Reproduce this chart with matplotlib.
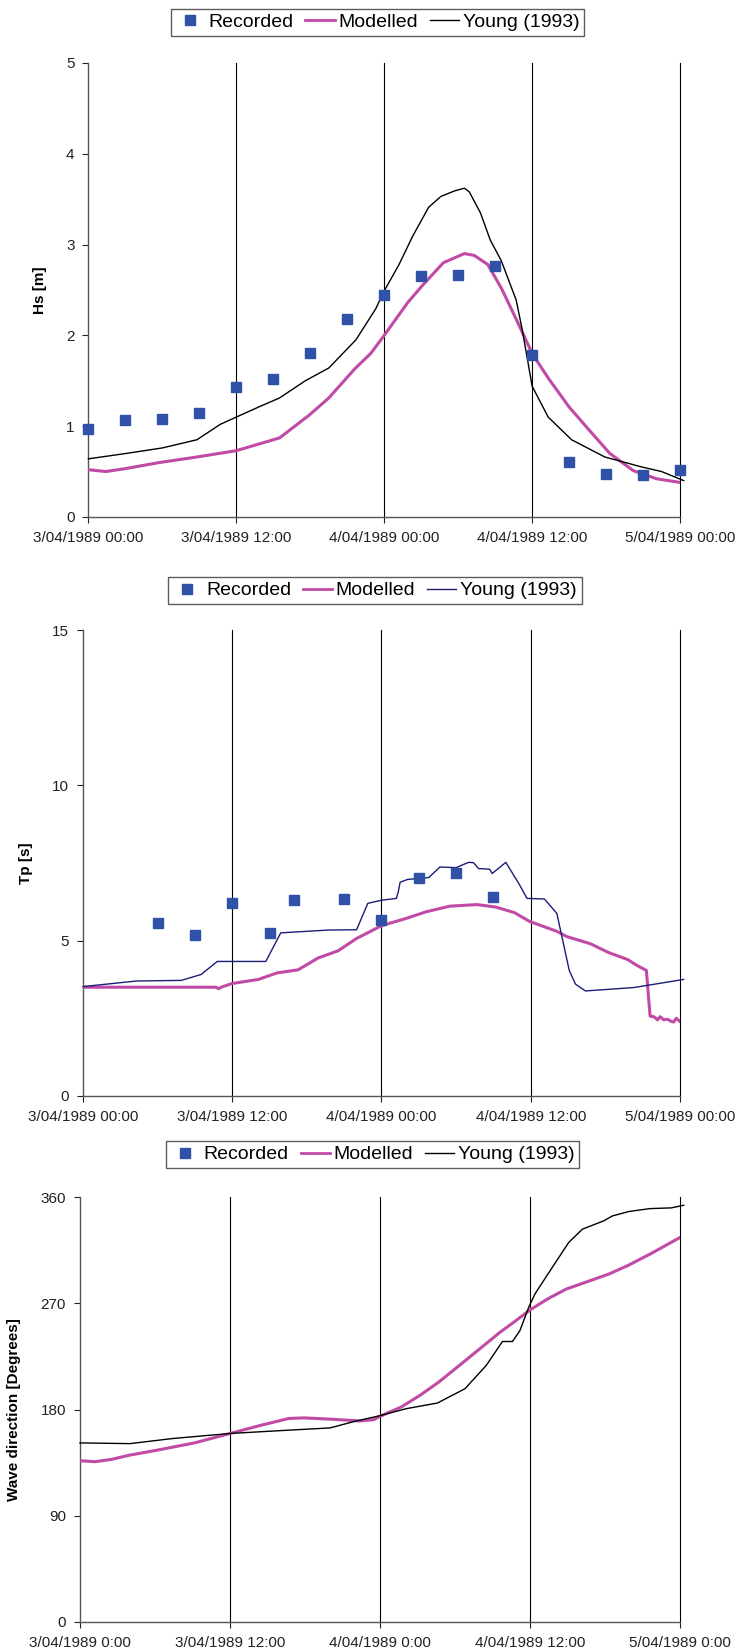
import matplotlib
matplotlib.use("Agg")
import matplotlib.pyplot as plt
from matplotlib.lines import Line2D

plt.rcParams['font.family'] = ['Liberation Sans', 'DejaVu Sans']

# Datos (horas desde 3/04/1989 00:00)
hs_rec_t = [0, 3, 6, 9, 12, 15, 18, 21, 24, 27, 30, 33, 36, 39, 42, 45, 48]
hs_rec = [0.97, 1.07, 1.08, 1.14, 1.43, 1.52, 1.80, 2.18, 2.44, 2.65, 2.66, 2.76, 1.78, 0.60, 0.47, 0.46, 0.52]
hs_mod_t = [0, 1.4, 2.9, 5.8, 8.8, 12.0, 15.5, 17.9, 19.5, 21.6, 22.9, 24.0, 25.9, 27.1, 28.8, 30.5,
            31.3, 32.4, 33.5, 34.7, 36.0, 37.3, 39.0, 40.8, 42.3, 44.2, 46.1, 48]
hs_mod = [0.52, 0.50, 0.53, 0.60, 0.66, 0.73, 0.87, 1.12, 1.31, 1.63, 1.80, 2.00, 2.36, 2.55, 2.80, 2.90,
          2.88, 2.78, 2.52, 2.18, 1.80, 1.53, 1.21, 0.93, 0.70, 0.51, 0.42, 0.38]
hs_young_t = [0, 3.1, 6.0, 8.8, 10.7, 12.0, 13.8, 15.5, 17.6, 19.5, 21.7, 23.3, 24.0, 25.2, 26.3, 27.6,
              28.6, 29.7, 30.5, 30.9, 31.8, 32.6, 33.5, 34.7, 35.2, 36.0, 37.3, 39.2, 41.9, 44.9, 46.5, 48.3]
hs_young = [0.64, 0.70, 0.76, 0.85, 1.02, 1.10, 1.21, 1.31, 1.50, 1.64, 1.95, 2.29, 2.49, 2.78, 3.09, 3.41,
            3.53, 3.59, 3.62, 3.58, 3.35, 3.05, 2.82, 2.39, 2.06, 1.44, 1.10, 0.85, 0.66, 0.55, 0.50, 0.40]

tp_rec_t = [6, 9, 12, 15, 17, 21, 24, 27, 30, 33]
tp_rec = [5.56, 5.17, 6.22, 5.26, 6.30, 6.35, 5.65, 7.03, 7.19, 6.39]
tp_mod_t = [0, 10.7, 10.9, 11.1, 12.0, 14.1, 15.6, 17.3, 18.9, 20.5, 22.0, 24.0, 26.1, 27.6, 29.5, 31.7,
            33.2, 34.7, 35.9, 38.1, 38.9, 40.8, 42.3, 43.8, 44.5, 45.3, 45.6, 45.9, 46.2, 46.4, 46.7,
            47.0, 47.3, 47.5, 47.7, 48.0]
tp_mod = [3.50, 3.50, 3.45, 3.50, 3.62, 3.75, 3.96, 4.06, 4.44, 4.67, 5.07, 5.48, 5.73, 5.93, 6.11, 6.16,
          6.08, 5.90, 5.62, 5.30, 5.13, 4.90, 4.61, 4.39, 4.21, 4.04, 2.57, 2.55, 2.45, 2.55, 2.45,
          2.47, 2.40, 2.38, 2.50, 2.40]
tp_young_t = [0, 4.3, 7.9, 9.5, 10.8, 14.7, 15.9, 19.7, 22.0, 22.9, 24.0, 25.2, 25.35, 25.5, 26.1, 27.8,
              28.7, 30.0, 31.0, 31.4, 31.8, 32.7, 32.9, 34.0, 35.1, 35.7, 37.1, 38.1, 39.1, 39.6, 40.4,
              44.3, 48.3]
tp_young = [3.52, 3.70, 3.72, 3.91, 4.33, 4.33, 5.25, 5.34, 5.35, 6.20, 6.30, 6.36, 6.57, 6.88, 6.97, 7.03,
            7.37, 7.35, 7.52, 7.51, 7.32, 7.30, 7.16, 7.52, 6.80, 6.36, 6.34, 5.88, 4.04, 3.60, 3.38,
            3.49, 3.75]

dir_mod_t = [0, 1.2, 2.5, 4.0, 6.2, 9.2, 12.0, 14.5, 16.7, 17.9, 20.1, 22.4, 23.5, 24.0, 25.7, 27.2,
             28.7, 31.0, 33.6, 34.7, 36.0, 37.4, 38.9, 40.8, 42.3, 43.8, 45.6, 48]
dir_mod = [136.6, 135.8, 137.7, 141.4, 145.6, 151.8, 159.7, 166.7, 172.4, 172.9, 171.8, 170.3, 171.4,
           174.2, 182.1, 192.0, 203.2, 222.9, 245.4, 253.9, 264.3, 273.6, 282.0, 289.1, 294.7, 301.8,
           311.6, 325.7]
dir_young_t = [0, 4.0, 7.4, 12.0, 16.7, 20.0, 22.0, 24.0, 26.1, 28.6, 30.8, 32.5, 33.8, 34.6, 35.2, 35.9,
               36.4, 37.7, 39.1, 40.2, 41.9, 42.6, 43.9, 45.6, 47.3, 48.3]
dir_young = [151.7, 151.1, 155.4, 159.7, 162.5, 164.4, 170.0, 174.8, 180.7, 185.5, 197.6, 217.3, 237.6,
             237.6, 246.9, 266.6, 277.9, 299.0, 321.5, 332.8, 339.8, 344.0, 347.7, 350.2, 350.8, 353.0]

x_ticks = [0, 12, 24, 36, 48]
x_labels_a = ["3/04/1989 00:00", "3/04/1989 12:00", "4/04/1989 00:00", "4/04/1989 12:00", "5/04/1989 00:00"]
x_labels_b = ["3/04/1989 0:00", "3/04/1989 12:00", "4/04/1989 0:00", "4/04/1989 12:00", "5/04/1989 0:00"]

rec_color = '#2f52a8'
mod_color = '#c04aa6'

fig = plt.figure(figsize=(7.35, 16.51), dpi=100)


def panel(rect, rec_t, rec, mod_t, mod, yng_t, yng, yng_color, ylim, yticks, ylabel, xlabels, leg_pos):
    ax = fig.add_axes(rect)
    for v in x_ticks[1:]:
        ax.axvline(v, color='black', lw=0.8, zorder=1, clip_on=False)
    if rec_t is not None:
        ax.plot(rec_t, rec, 's', color=rec_color, ms=7, zorder=4, clip_on=False)
    ax.plot(mod_t, mod, color=mod_color, lw=2.2, zorder=3)
    ax.plot(yng_t, yng, color=yng_color, lw=1, zorder=3, clip_on=False)
    ax.set_xlim(0, 48)
    ax.set_ylim(*ylim)
    ax.set_yticks(yticks)
    ax.set_xticks(x_ticks)
    ax.set_xticklabels(xlabels)
    ax.tick_params(labelsize=11, length=4, width=0.8, colors='#222222', pad=6)
    ax.spines['top'].set_visible(False)
    ax.spines['right'].set_visible(False)
    for s in ['left', 'bottom']:
        ax.spines[s].set_color('#555555')
        ax.spines[s].set_linewidth(1)
    ax.set_ylabel(ylabel, fontsize=11, fontweight='bold', labelpad=14)
    handles = [Line2D([], [], marker='s', ls='none', color=rec_color, ms=7),
               Line2D([], [], color=mod_color, lw=2),
               Line2D([], [], color=yng_color, lw=1)]
    leg = fig.legend(handles, ['Recorded', 'Modelled', 'Young (1993)'], loc='center',
                     bbox_to_anchor=leg_pos, ncol=3, fontsize=14, frameon=True, fancybox=False,
                     edgecolor='#333333', handlelength=1.5, handletextpad=0.2, columnspacing=0.6,
                     borderpad=0.25, borderaxespad=0)
    leg.get_frame().set_linewidth(1)
    return ax


panel([0.1204, 0.6869, 0.8048, 0.2750], hs_rec_t, hs_rec, hs_mod_t, hs_mod, hs_young_t, hs_young,
      'black', (0, 5), [0, 1, 2, 3, 4, 5], 'Hs [m]', x_labels_a, (0.5136, 0.9864))
panel([0.1129, 0.3362, 0.8122, 0.2822], tp_rec_t, tp_rec, tp_mod_t, tp_mod, tp_young_t, tp_young,
      '#1c1c78', (0, 15), [0, 5, 10, 15], 'Tp [s]', x_labels_a, (0.510, 0.6423))
panel([0.1088, 0.01757, 0.8163, 0.2574], None, None, dir_mod_t, dir_mod, dir_young_t, dir_young,
      'black', (0, 360), [0, 90, 180, 270, 360], 'Wave direction [Degrees]', x_labels_b, (0.507, 0.3007))

fig.savefig('out.png', dpi=100)
